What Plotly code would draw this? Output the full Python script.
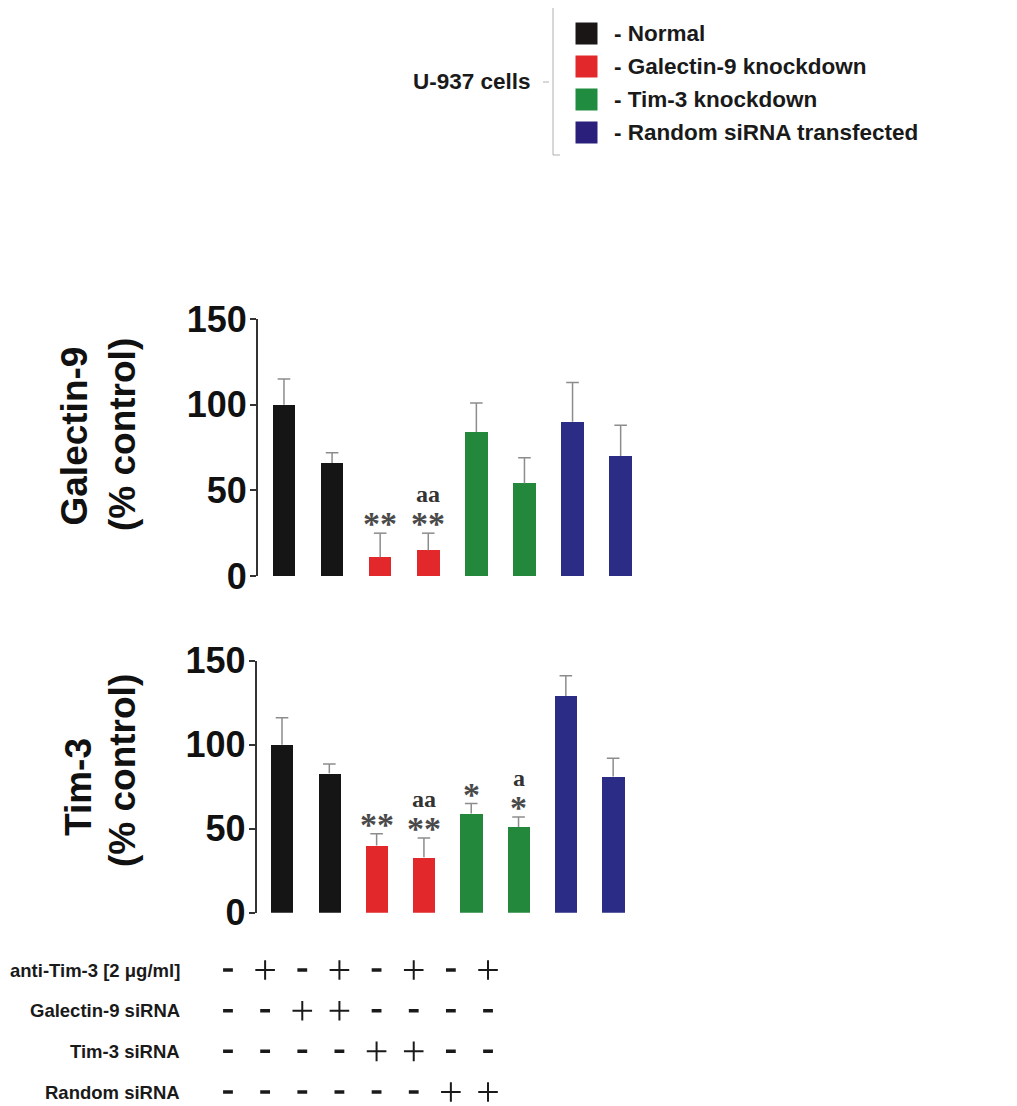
import plotly.graph_objects as go

W, H = 1017, 1106
OFF = 8  # the page body adds an 8 px margin around the figure


def px(x):
    return (x - OFF) / W


def py(y):
    return 1 - (y - OFF) / H


# ---------------- data ----------------
conditions = list(range(8))
bar_colors = ["#151515", "#151515", "#e2282b", "#e2282b",
              "#23883c", "#23883c", "#2b2c85", "#2b2c85"]

gal9_values = [100, 66, 11, 15, 84, 54, 90, 70]
gal9_sem = [15, 6, 14, 10, 17, 15, 23, 18]
gal9_stars = ["", "", "**", "**", "", "", "", ""]
gal9_a = ["", "", "", "aa", "", "", "", ""]

tim3_values = [100, 83, 40, 33, 59, 51, 129, 81]
tim3_sem = [16, 5.5, 7, 11.5, 6, 6, 12, 11]
tim3_stars = ["", "", "**", "**", "*", "*", "", ""]
tim3_a = ["", "", "", "aa", "", "a", "", ""]

y_ticks = [0, 50, 100, 150]

table_rows = ["anti-Tim-3 [2 μg/ml]", "Galectin-9 siRNA", "Tim-3 siRNA", "Random siRNA"]
table_signs = [
    ["-", "+", "-", "+", "-", "+", "-", "+"],
    ["-", "-", "+", "+", "-", "-", "-", "-"],
    ["-", "-", "-", "-", "+", "+", "-", "-"],
    ["-", "-", "-", "-", "-", "-", "+", "+"],
]

legend_labels = ["- Normal", "- Galectin-9 knockdown", "- Tim-3 knockdown",
                 "- Random siRNA transfected"]
legend_colors = ["#1a1616", "#e2282b", "#1f8c3f", "#2a1f7a"]
legend_group = "U-937 cells"

SANS = "Liberation Sans, Arial, sans-serif"
SERIF = "Liberation Serif, Times New Roman, serif"
ERR_COLOR = "#8c8c8c"

fig = go.Figure()


def add_panel(values, sems, xa, ya):
    fig.add_trace(go.Bar(
        x=conditions, y=values, width=0.47,
        marker=dict(color=bar_colors, line=dict(width=0)),
        xaxis=xa, yaxis=ya, showlegend=False))
    # upper error bars: stem from bar top to mean + SEM, with a cap
    sx, sy = [], []
    for i in conditions:
        sx += [i, i, None]
        sy += [values[i], values[i] + sems[i], None]
    fig.add_trace(go.Scatter(
        x=sx, y=sy, mode="lines", line=dict(color=ERR_COLOR, width=1.5),
        xaxis=xa, yaxis=ya, showlegend=False, hoverinfo="skip"))
    fig.add_trace(go.Scatter(
        x=conditions, y=[v + e for v, e in zip(values, sems)], mode="markers",
        marker=dict(symbol="line-ew", size=9, color=ERR_COLOR,
                    line=dict(width=1.5, color=ERR_COLOR)),
        xaxis=xa, yaxis=ya, showlegend=False, hoverinfo="skip"))


add_panel(gal9_values, gal9_sem, "x", "y")
add_panel(tim3_values, tim3_sem, "x2", "y2")

# ---------------- table of treatments ----------------
plus_x, plus_y, minus_x, minus_y = [], [], [], []
for r, row in enumerate(table_signs):
    for c, s in enumerate(row):
        if s == "+":
            plus_x.append(c)
            plus_y.append(r)
        else:
            minus_x.append(c)
            minus_y.append(r)

fig.add_trace(go.Scatter(
    x=plus_x, y=plus_y, mode="markers", xaxis="x3", yaxis="y3", showlegend=False,
    marker=dict(symbol="cross-thin", size=14, color="#1a1a1a",
                line=dict(width=2, color="#1a1a1a"))))
fig.add_trace(go.Scatter(
    x=minus_x, y=minus_y, mode="markers", xaxis="x3", yaxis="y3", showlegend=False,
    marker=dict(symbol="line-ew", size=7, color="#1a1a1a",
                line=dict(width=3.5, color="#1a1a1a"))))

# ---------------- custom legend ----------------
fig.add_trace(go.Scatter(
    x=[586.5] * len(legend_labels), y=list(range(len(legend_labels))), mode="markers",
    xaxis="x4", yaxis="y4", showlegend=False,
    marker=dict(symbol="square", size=22, color=legend_colors, line=dict(width=0))))

annotations = []
for i, lab in enumerate(legend_labels):
    annotations.append(dict(
        x=612, y=i, xref="x4", yref="y4", text=lab, showarrow=False,
        xanchor="left", yanchor="middle",
        font=dict(family=SANS, size=22.5, color="#1a1a1a", weight="bold")))
annotations.append(dict(
    x=px(533), y=py(82), xref="paper", yref="paper", text=legend_group, showarrow=False,
    xanchor="right", yanchor="middle",
    font=dict(family=SANS, size=22.5, color="#1a1a1a", weight="bold")))

bracket = dict(color="#b0b0b0", width=1)
shapes = [
    dict(type="line", xref="paper", yref="paper", x0=px(553), x1=px(553), y0=py(7), y1=py(155), line=bracket),
    dict(type="line", xref="paper", yref="paper", x0=px(553), x1=px(560), y0=py(7), y1=py(7), line=bracket),
    dict(type="line", xref="paper", yref="paper", x0=px(553), x1=px(560), y0=py(155), y1=py(155), line=bracket),
    dict(type="line", xref="paper", yref="paper", x0=px(543), x1=px(549), y0=py(82), y1=py(82), line=bracket),
]

# table row labels
for r, lab in enumerate(table_rows):
    annotations.append(dict(
        x=px(182), y=r, xref="paper", yref="y3", text=lab, showarrow=False,
        xanchor="right", yanchor="middle",
        font=dict(family=SANS, size=18.5, color="#1a1a1a", weight="bold")))

# y-axis titles
title_font = dict(family=SANS, size=37, color="#111111", weight="bold")
for text, x, y in [("Galectin-9", 74, 436.5), ("(% control)", 122, 435),
                   ("Tim-3", 78, 787), ("(% control)", 122, 771)]:
    annotations.append(dict(x=px(x), y=py(y), xref="paper", yref="paper", text=text,
                            showarrow=False, textangle=-90, xanchor="center", yanchor="middle",
                            font=title_font))

# significance marks
for xa, ya, vals, sems, stars, alist in [("x", "y", gal9_values, gal9_sem, gal9_stars, gal9_a),
                                         ("x2", "y2", tim3_values, tim3_sem, tim3_stars, tim3_a)]:
    for i in conditions:
        top = vals[i] + sems[i]
        if stars[i]:
            annotations.append(dict(
                x=i, y=top, xref=xa, yref=ya, text=stars[i], showarrow=False,
                xanchor="center", yanchor="bottom", yshift=-11,
                font=dict(family=SERIF, size=34, color="#4a4a4a", weight="bold")))
        if alist[i]:
            annotations.append(dict(
                x=i, y=top, xref=xa, yref=ya, text=alist[i], showarrow=False,
                xanchor="center", yanchor="bottom", yshift=24,
                font=dict(family=SERIF, size=24, color="#333333", weight="bold")))

hidden = dict(showline=False, showticklabels=False, showgrid=False, zeroline=False,
              ticks="", automargin=False)
yax = dict(range=[0, 150], tickvals=y_ticks, showline=True, linecolor="#333333", linewidth=2,
           ticks="outside", ticklen=6, tickwidth=2, tickcolor="#333333", showgrid=False,
           zeroline=False, ticklabelstandoff=-4, automargin=False,
           tickfont=dict(family=SANS, size=36, color="#111111", weight="bold"))

fig.update_layout(
    template="none",
    width=W, height=H, autosize=False,
    margin=dict(l=0, r=0, t=0, b=0, pad=0),
    paper_bgcolor="white", plot_bgcolor="white",
    showlegend=False,
    xaxis=dict(domain=[px(258), px(644.7)], range=[-0.54, 7.5], anchor="y", **hidden),
    yaxis=dict(domain=[py(576), py(319)], anchor="x", **yax),
    xaxis2=dict(domain=[px(256.7), px(636.8)], range=[-0.535, 7.5], anchor="y2", **hidden),
    yaxis2=dict(domain=[py(912.7), py(660.7)], anchor="x2", **yax),
    xaxis3=dict(domain=[px(209.4), px(506.6)], range=[-0.5, 7.5], anchor="y3", **hidden),
    yaxis3=dict(domain=[0, py(949.7)], range=[3.541, -0.5], anchor="x3", **hidden),
    xaxis4=dict(domain=[0, 1], range=[OFF, W + OFF], anchor="y4", **hidden),
    yaxis4=dict(domain=[py(165), 1], range=[3.985, -0.773], anchor="x4", **hidden),
    annotations=annotations,
    shapes=shapes,
    bargap=0,
)

fig.write_html("out.html")
